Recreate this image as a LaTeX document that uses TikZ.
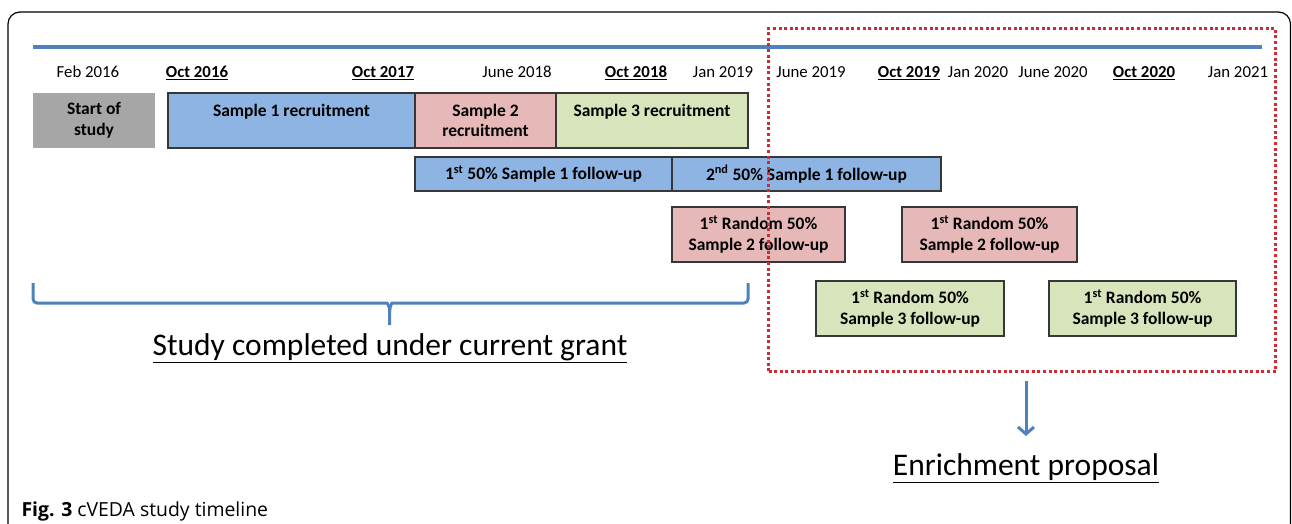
\documentclass[tikz,border=0pt]{standalone}
\usepackage{fontspec}
\setmainfont{Carlito}
\newfontfamily\capfont{Open Sans}
\usetikzlibrary{arrows.meta,positioning}

\definecolor{lineblue}{RGB}{79,129,189}
\definecolor{boxblue}{RGB}{141,180,226}
\definecolor{boxpink}{RGB}{230,184,183}
\definecolor{boxgreen}{RGB}{216,228,188}
\definecolor{boxgray}{RGB}{166,166,166}
\definecolor{dotred}{RGB}{204,45,52}
\definecolor{edgegray}{RGB}{55,55,55}

\begin{document}
\begin{tikzpicture}[x=1pt,y=-1pt]
    \tikzset{block/.style= {draw=edgegray, line width=1.2pt, rectangle
    , inner sep=0pt, outer sep=0pt
    , align=center
    , font=\fontsize{17.5}{20.5}\selectfont\bfseries
      },
      tall/.style={block, minimum height=55},
      low/.style={block, minimum height=34},
      date/.style={anchor=base, font=\fontsize{16.8}{20}\selectfont},
      keydate/.style={date, font=\fontsize{16.8}{20}\selectfont\bfseries},
      bigtext/.style={font=\fontsize{31.5}{36}\selectfont}
    }
\useasboundingbox (0,0) rectangle (1292,524);

% frame and time axis
\draw[line width=1.2pt, rounded corners=12pt] (8,524) -- (8,12) -- (1290.5,12) -- (1290.5,524);
\draw[lineblue, line width=3.5pt] (33,47) -- (1262,47);

\node[date] (feb16) at (88,78) {Feb 2016};
\node[keydate] (oct16) at (197,78) {\underline{Oct 2016}};
\node[keydate] (oct17) at (383,78) {\underline{Oct 2017}};
\node[date] (jun18) at (517,78) {June 2018};
\node[keydate] (oct18) at (636,78) {\underline{Oct 2018}};
\node[date] (jan19) at (723,78) {Jan 2019};
\node[date] (jun19) at (811,78) {June 2019};
\node[keydate] (oct19) at (909,78) {\underline{Oct 2019}};
\node[date] (jan20) at (978,78) {Jan 2020};
\node[date] (jun20) at (1053,78) {June 2020};
\node[keydate] (oct20) at (1144,78) {\underline{Oct 2020}};
\node[date] (jan21) at (1238,78) {Jan 2021};

% recruitment
\node[tall, draw=none, fill=boxgray, minimum width=122, anchor=north west] (start) at (33,93) {Start of\\study};
\node[tall, fill=boxblue, minimum width=247, anchor=north west] (rec1) at (168,93) {Sample 1 recruitment\\\mbox{}};
\node[tall, fill=boxpink, minimum width=141, right=0pt of rec1] (rec2) {Sample 2\\recruitment};
\node[tall, fill=boxgreen, minimum width=192, right=0pt of rec2] (rec3) {Sample 3 recruitment\\\mbox{}};

% follow-up
\node[low, fill=boxblue, minimum width=257, anchor=north west] (fol1) at (415,157) {1\textsuperscript{st} 50\% Sample 1 follow-up};
\node[low, fill=boxblue, minimum width=269, right=0pt of fol1] (fol2) {2\textsuperscript{nd} 50\% Sample 1 follow-up};

\node[tall, fill=boxpink, minimum width=173, anchor=north west] (pinkA) at (672,207) {1\textsuperscript{st} Random 50\%\\Sample 2 follow-up};
\node[tall, fill=boxpink, minimum width=175, anchor=north west] (pinkB) at (902,207) {1\textsuperscript{st} Random 50\%\\Sample 2 follow-up};
\node[tall, fill=boxgreen, minimum width=188, anchor=north west] (greenA) at (816,281) {1\textsuperscript{st} Random 50\%\\Sample 3 follow-up};
\node[tall, fill=boxgreen, minimum width=187, anchor=north west] (greenB) at (1049,281) {1\textsuperscript{st} Random 50\%\\Sample 3 follow-up};

% current grant
\draw[lineblue, line width=3pt, rounded corners=4pt] (33,283) -- (33,303) -- (383,303) to[out=0, in=90] (389.5,312) -- (389.5,325);
\draw[lineblue, line width=3pt, rounded corners=4pt] (389.5,312) to[out=90, in=180] (396,303) -- (748,303) -- (748,283);
\node[bigtext] (grant) at (390,348) {\underline{Study completed under current grant}};

% enrichment
\node[draw=dotred, line width=3pt, dash pattern=on 3pt off 2.6pt, minimum width=507, minimum height=343, anchor=north west] (enrich) at (767,27) {};
\node[bigtext] (prop) at (1026,468) {\underline{Enrichment proposal}};
\draw[lineblue, line width=3pt, -{Straight Barb[length=7pt, width=16pt]}, shorten <=8pt, shorten >=14pt]
  (prop.north |- enrich.south) -- (prop.north);

\node[anchor=base west, font=\capfont\fontsize{19.4}{22}\selectfont] (cap) at (18,516) {\textbf{Fig. 3} cVEDA study timeline};
\end{tikzpicture}
\end{document}
